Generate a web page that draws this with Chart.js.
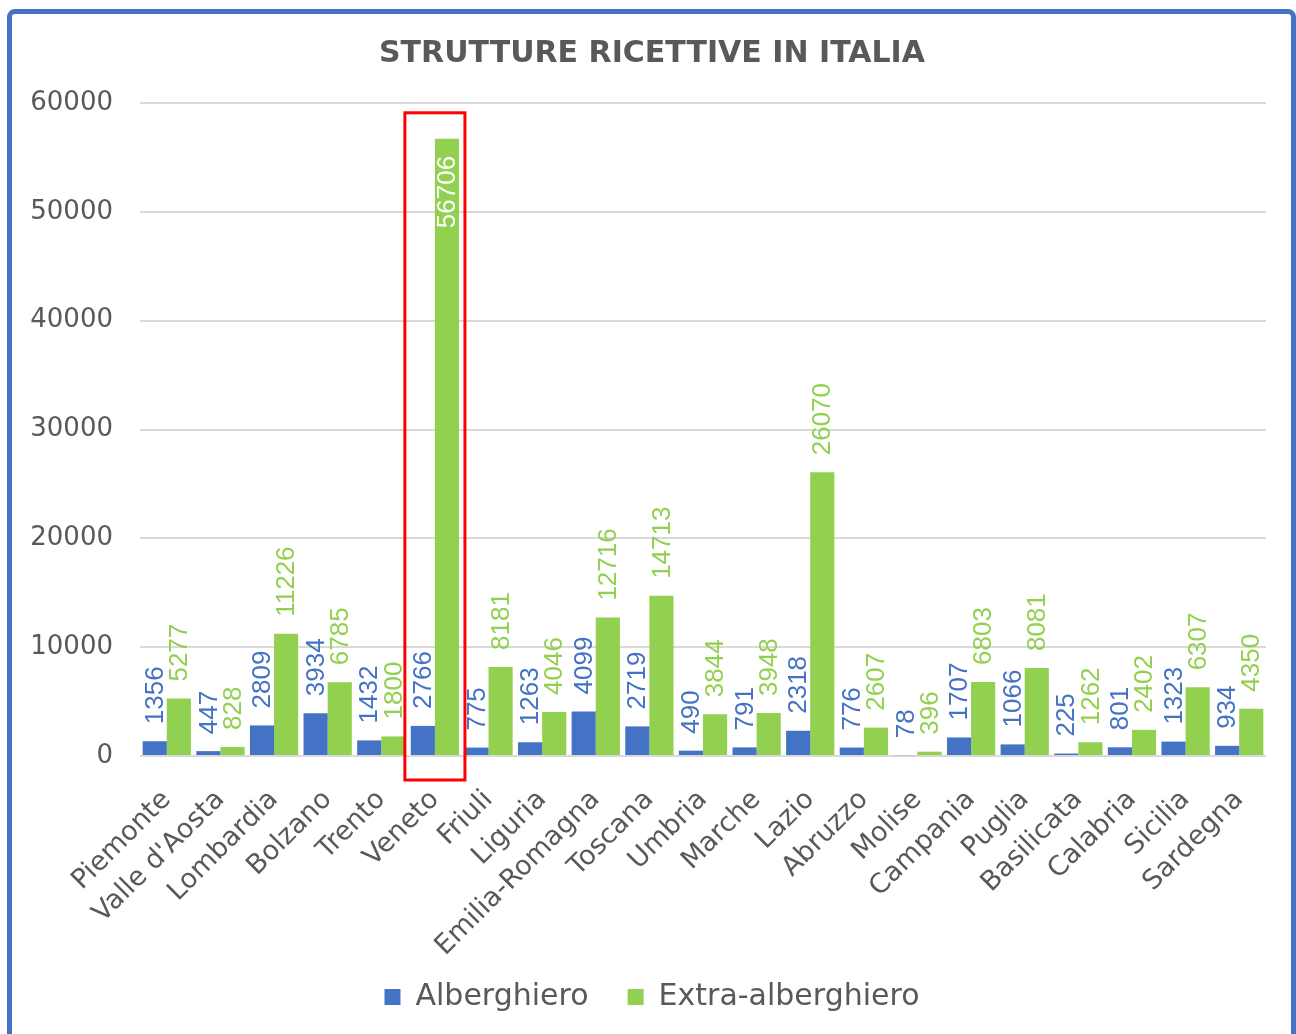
<!DOCTYPE html>
<html lang="it">
<head>
  <meta charset="UTF-8" />
  <title>Strutture ricettive in Italia</title>
  <script src="https://cdn.jsdelivr.net/npm/chart.js"></script>
  <style>
    html, body {
      margin: 0;
      padding: 0;
      background: #ffffff;
      overflow: hidden;
    }
    #chart {
      position: absolute;
      left: 0;
      top: 0;
    }
    .frame {
      position: absolute;
      left: 7px;
      top: 9px;
      width: 1289px;
      height: 1100px;
      box-sizing: border-box;
      border: 5px solid #4472C4;
      border-radius: 8px;
      pointer-events: none;
    }
  </style>
</head>
<body>
  <canvas id="chart" width="1296" height="1034"></canvas>
  <div class="frame"></div>

  <script>
    // dati
    const regioni = ['Piemonte', "Valle d'Aosta", 'Lombardia', 'Bolzano', 'Trento', 'Veneto', 'Friuli',
      'Liguria', 'Emilia-Romagna', 'Toscana', 'Umbria', 'Marche', 'Lazio', 'Abruzzo', 'Molise',
      'Campania', 'Puglia', 'Basilicata', 'Calabria', 'Sicilia', 'Sardegna'];
    const alberghiero = [1356, 447, 2809, 3934, 1432, 2766, 775, 1263, 4099, 2719, 490, 791, 2318,
      776, 78, 1707, 1066, 225, 801, 1323, 934];
    const extraAlberghiero = [5277, 828, 11226, 6785, 1800, 56706, 8181, 4046, 12716, 14713, 3844,
      3948, 26070, 2607, 396, 6803, 8081, 1262, 2402, 6307, 4350];
    const yTicks = [0, 10000, 20000, 30000, 40000, 50000, 60000];
    const evidenziata = 'Veneto';

    const BLU = '#4472C4';
    const VERDE = '#92D050';
    const GRIGIO = '#595959';
    const FONT = "'DejaVu Sans', sans-serif";

    // etichette verticali sopra le barre (come in Excel)
    const etichette = {
      id: 'etichette',
      afterDatasetsDraw(chart) {
        const ctx = chart.ctx;
        const top = chart.chartArea.top;
        ctx.save();
        ctx.font = "26px 'Liberation Sans', sans-serif";
        chart.data.datasets.forEach((ds, di) => {
          chart.getDatasetMeta(di).data.forEach((bar, i) => {
            const testo = String(ds.data[i]);
            const w = ctx.measureText(testo).width;
            const dentro = bar.y - 17 - w < top;
            ctx.save();
            ctx.textBaseline = 'middle';
            if (dentro) {
              ctx.translate(bar.x + 1, bar.y + 17);
              ctx.rotate(-Math.PI / 2);
              ctx.textAlign = 'right';
              ctx.fillStyle = '#ffffff';
            } else {
              ctx.translate(bar.x + 1, bar.y - 17);
              ctx.rotate(-Math.PI / 2);
              ctx.textAlign = 'left';
              ctx.fillStyle = ds.backgroundColor;
            }
            ctx.fillText(testo, 0, 0);
            ctx.restore();
          });
        });
        ctx.restore();
      }
    };

    // riquadro rosso attorno alla regione evidenziata
    const riquadro = {
      id: 'riquadro',
      afterDraw(chart) {
        const x = chart.scales.x;
        const y = chart.scales.y;
        const i = regioni.indexOf(evidenziata);
        const passo = x.getPixelForValue(1) - x.getPixelForValue(0);
        const cx = x.getPixelForValue(i);
        const ctx = chart.ctx;
        ctx.save();
        ctx.strokeStyle = '#FF0000';
        ctx.lineWidth = 3;
        ctx.strokeRect(cx - passo * 0.56, y.getPixelForValue(59100), passo * 1.12, y.bottom + 24 - y.getPixelForValue(59100));
        ctx.restore();
      }
    };

    new Chart(document.getElementById('chart').getContext('2d'), {
      type: 'bar',
      data: {
        labels: regioni,
        datasets: [
          { label: 'Alberghiero', data: alberghiero, backgroundColor: BLU },
          { label: 'Extra-alberghiero', data: extraAlberghiero, backgroundColor: VERDE }
        ]
      },
      options: {
        responsive: false,
        animation: false,
        layout: { padding: { left: 12, right: 4, top: 14, bottom: 12 } },
        datasets: {
          bar: { categoryPercentage: 0.9, barPercentage: 1 }
        },
        scales: {
          x: {
            grid: { display: false },
            border: { display: false },
            ticks: {
              color: GRIGIO,
              font: { family: FONT, size: 27 },
              minRotation: 45,
              maxRotation: 45,
              padding: 20,
              autoSkip: false
            },
            afterFit: s => { s.height = 206; }
          },
          y: {
            min: 0,
            max: 60000,
            afterBuildTicks: s => { s.ticks = yTicks.map(v => ({ value: v })); },
            grid: { color: '#D9D9D9', lineWidth: 2, drawTicks: false },
            border: { display: false },
            ticks: {
              color: GRIGIO,
              font: { family: FONT, size: 26 },
              padding: 27,
              callback: v => String(v)
            },
            afterFit: s => { s.width = 128; }
          },
          // asse vuoto a destra, solo per lo spazio
          destra: {
            position: 'right',
            grid: { display: false },
            border: { display: false },
            ticks: { display: false },
            afterFit: s => { s.width = 26; }
          }
        },
        plugins: {
          title: {
            display: true,
            text: 'STRUTTURE RICETTIVE IN ITALIA',
            color: GRIGIO,
            font: { family: FONT, size: 30, weight: 'bold' },
            padding: { top: 22, bottom: 31 }
          },
          legend: {
            position: 'bottom',
            labels: {
              color: GRIGIO,
              font: { family: FONT, size: 30 },
              boxWidth: 16,
              boxHeight: 16,
              padding: 20,
              // un po' di spazio in più tra le due voci
              generateLabels: chart => Chart.defaults.plugins.legend.labels.generateLabels(chart)
                .map((l, i) => i === 0 ? { ...l, text: l.text + '  ' } : l)
            }
          },
          tooltip: { enabled: false }
        }
      },
      plugins: [etichette, riquadro]
    });
  </script>
</body>
</html>
